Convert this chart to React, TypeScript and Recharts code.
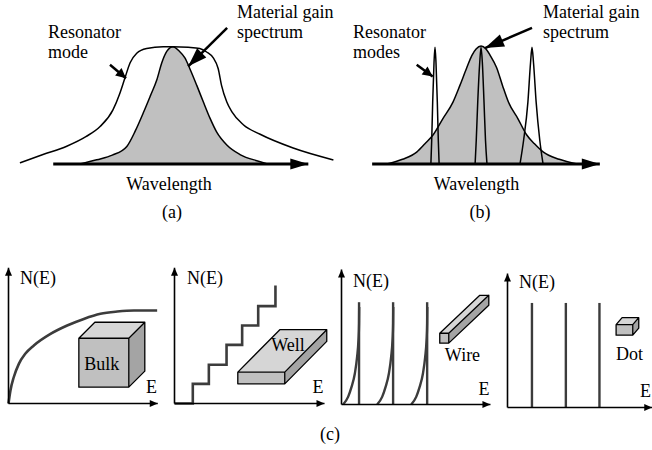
import React from 'react';
import { ComposedChart, Line, Area, XAxis, YAxis } from 'recharts';

type P = [number, number];

// ---- Panel (a): wavelength (a.u.) vs gain (normalised) ----
const gainA: P[] = [
  [21.2, 0], [26.3, 0.036], [31, 0.075], [35.4, 0.148], [38, 0.28], [40.4, 0.43], [42.5, 0.57],
  [44.5, 0.707], [46, 0.85], [47.5, 0.945], [49.4, 0.985], [51.2, 0.95], [53, 0.89], [54.5, 0.8],
  [56.6, 0.66], [58.6, 0.52], [60.6, 0.385], [62.6, 0.27], [65.7, 0.16], [69.7, 0.08], [75.8, 0.02], [78, 0],
];
const modeA: P[] = [
  [3, 0.01], [10, 0.08], [17.2, 0.15], [23, 0.23], [27.3, 0.315], [31.2, 0.455], [33.3, 0.595],
  [34.8, 0.72], [36.4, 0.85], [38.4, 0.93], [41.4, 0.97], [46.4, 0.985], [49.4, 0.985], [54, 0.98],
  [57.5, 0.97], [59.6, 0.94], [61.6, 0.89], [63.1, 0.8], [64.1, 0.66], [65.7, 0.52], [67.2, 0.44],
  [70.7, 0.33], [75.8, 0.25], [85.8, 0.135], [98, 0.035],
];
const axisA: P[] = [[13.1, 0], [90.4, 0]];
const pointerGainA: P[] = [[65.8, 1.143], [54.0, 0.82]];
const pointerModeA: P[] = [[30.3, 0.833], [35.15, 0.72]];

// ---- Panel (b) ----
const gainB: P[] = [
  [20.3, 0], [25, 0.04], [29.3, 0.1], [31.8, 0.17], [34.3, 0.246], [37.2, 0.38], [40.3, 0.52],
  [42.4, 0.66], [44.5, 0.81], [46, 0.91], [47.3, 0.965], [48.8, 0.99], [50.3, 0.965], [51.6, 0.91],
  [53.5, 0.81], [55.3, 0.66], [57.1, 0.52], [60, 0.38], [62.6, 0.246], [65, 0.17], [67.7, 0.1],
  [72.5, 0.04], [77.9, 0],
];
const modeB1: P[] = [
  [33.6, 0], [33.85, 0.2], [34.15, 0.52], [34.55, 0.85], [34.85, 0.98], [35.15, 0.85], [35.55, 0.52], [35.85, 0.2], [36.1, 0],
];
const modeB2: P[] = [
  [47.0, 0], [47.35, 0.2], [47.8, 0.52], [48.4, 0.85], [48.8, 0.98], [49.2, 0.85], [49.7, 0.52], [50.15, 0.2], [50.6, 0],
];
const modeB3: P[] = [
  [60.6, 0], [61.7, 0.2], [63.0, 0.52], [63.8, 0.85], [64.24, 0.98], [64.7, 0.85], [65.5, 0.52], [66.6, 0.2], [67.6, 0],
];
const axisB: P[] = [[15.8, 0], [84.8, 0]];
const pointerGainB: P[] = [[64.24, 1.143], [50.0, 0.973]];
const pointerModeB: P[] = [[29.3, 0.833], [34.15, 0.735]];

// ---- Panel (c): density of states N(E) ----
const bulkDos: P[] = [
  [0, 0], [0.13, 0.87], [0.35, 1.75], [0.69, 2.64], [1.13, 3.33], [1.69, 3.87], [2.8, 4.64],
  [3.91, 5.2], [5.02, 5.64], [6.13, 5.98], [7.25, 6.13], [8.36, 6.2], [9.91, 6.2],
];
const wellEdges = [0, 1.22, 2.29, 3.47, 4.51, 5.58, 6.73];
const wellLevels = [0, 1.31, 2.58, 3.91, 5.2, 6.49, 7.87];
const wireEdges = [1.17, 3.44, 5.71];
const wireTop = 6.82;
const wireTail1: P[] = [[0.11, 0], [0.44, 0.51], [0.67, 1.17], [0.89, 2.07], [1.04, 3.17], [1.13, 4.29], [1.17, 5.42], [1.18, 6.5]];
const wireTail2: P[] = [[2.38, 0], [2.71, 0.51], [2.94, 1.17], [3.16, 2.07], [3.31, 3.17], [3.4, 4.29], [3.44, 5.42], [3.45, 6.5]];
const wireTail3: P[] = [[4.65, 0], [4.98, 0.51], [5.21, 1.17], [5.43, 2.07], [5.58, 3.17], [5.67, 4.29], [5.71, 5.42], [5.72, 6.5]];
const dotLevels = [1.63, 3.89, 6.13];
const dotTop = 6.97;

// boxes: [x0, x1, y0, y1, depthX, depthY]
const bulkBox = [4.69, 8.02, 1.09, 4.35, 1.067, 1.067];
const wellBox = [4.22, 7.35, 1.31, 2.09, 2.8, 2.83];
const wireBox = [6.55, 7.15, 4.09, 4.75, 2.67, 2.53];
const dotBox = [7.24, 8.35, 4.82, 5.52, 0.4, 0.47];

// axes of the four small panels: [yTop, xEnd]
const bulkAxes = [9.05, 9.95];
const wellAxes = [9.05, 10.0];
const wireAxes = [9.0, 9.93];
const dotAxes = [8.93, 9.65];

const CURVE = '#3c3c3c';
const FRONT = '#c0c0c0';
const TOPF = '#d6d6d6';
const SIDE = '#a4a4a4';
const SERIF = "'Liberation Serif', 'Times New Roman', 'DejaVu Serif', serif";

const pts = (a: P[]) => a.map(([x, y]) => ({ x, y }));

function polyRange(poly: P[]) {
  const xs = Array.from(new Set(poly.map((p) => p[0]))).sort((a, b) => a - b);
  return xs.map((x) => {
    const ys: number[] = [];
    for (let i = 0; i < poly.length; i++) {
      const [ax, ay] = poly[i];
      const [bx, by] = poly[(i + 1) % poly.length];
      if (Math.abs(ax - bx) < 1e-9) {
        if (Math.abs(x - ax) < 1e-9) ys.push(ay, by);
        continue;
      }
      const lo = Math.min(ax, bx);
      const hi = Math.max(ax, bx);
      if (x >= lo - 1e-9 && x <= hi + 1e-9) ys.push(ay + ((by - ay) * (x - ax)) / (bx - ax));
    }
    return { x, r: [Math.min(...ys), Math.max(...ys)] };
  });
}

const headDot = (len: number, hw: number, color: string) => (props: any) => {
  const { cx, cy, index, points } = props;
  if (!index || !points || points.length < 2) return <g key={`n${index}`} />;
  const p0 = points[index - 1];
  const dx = cx - p0.x;
  const dy = cy - p0.y;
  const d = Math.hypot(dx, dy) || 1;
  const ux = dx / d;
  const uy = dy / d;
  const bx = cx - ux * len;
  const by = cy - uy * len;
  const s = `${cx},${cy} ${bx - uy * hw},${by + ux * hw} ${bx + uy * hw},${by - ux * hw}`;
  return <polygon key={`h${index}`} points={s} fill={color} />;
};

const line = (key: string, data: P[], stroke: string, width: number, type: any = 'linear') => (
  <Line key={key} data={pts(data)} dataKey="y" type={type} stroke={stroke} strokeWidth={width}
    dot={false} activeDot={false} isAnimationActive={false} strokeLinejoin="round" />
);

const arrow = (key: string, data: P[], width: number, len: number, hw: number) => (
  <Line key={key} data={pts(data)} dataKey="y" type="linear" stroke="#000" strokeWidth={width}
    dot={headDot(len, hw, '#000')} activeDot={false} isAnimationActive={false} />
);

const face = (key: string, poly: P[], fill: string) => (
  <Area key={key} data={polyRange(poly)} dataKey="r" type="linear" fill={fill} fillOpacity={1}
    stroke="none" dot={false} activeDot={false} isAnimationActive={false} />
);

function box(key: string, b: number[]) {
  const [x0, x1, y0, y1, dx, dy] = b;
  const front: P[] = [[x0, y0], [x1, y0], [x1, y1], [x0, y1]];
  const top: P[] = [[x0, y1], [x1, y1], [x1 + dx, y1 + dy], [x0 + dx, y1 + dy]];
  const side: P[] = [[x1, y0], [x1 + dx, y0 + dy], [x1 + dx, y1 + dy], [x1, y1]];
  const outline: P[] = [
    [x0, y0], [x1, y0], [x1 + dx, y0 + dy], [x1 + dx, y1 + dy], [x0 + dx, y1 + dy], [x0, y1],
    [x0, y0], [x0, y1], [x1, y1], [x1 + dx, y1 + dy], [x1, y1], [x1, y0],
  ];
  return [
    face(key + 'f', front, FRONT),
    face(key + 't', top, TOPF),
    face(key + 's', side, SIDE),
    line(key + 'o', outline, '#000', 1.3),
  ];
}

function smallAxes(key: string, ax: number[]) {
  return [
    arrow(key + 'y', [[0, 0], [0, ax[0]]], 1.6, 8, 3.5),
    arrow(key + 'x', [[0, 0], [ax[1], 0]], 1.6, 8, 3.5),
  ];
}

function Frame(props: { left: number; top: number; width: number; height: number; xd: number[]; yd: number[]; children: any }) {
  const { left, top, width, height, xd, yd, children } = props;
  return (
    <div style={{ position: 'absolute', left, top, width, height }}>
      <ComposedChart width={width} height={height} margin={{ top: 0, right: 0, bottom: 0, left: 0 }}>
        <XAxis type="number" dataKey="x" domain={xd} hide />
        <YAxis type="number" domain={yd} hide />
        {children}
      </ComposedChart>
    </div>
  );
}

const labels: { t: string; x: number; y: number; a?: 'start' | 'middle' }[] = [
  { t: 'Resonator', x: 48, y: 38 },
  { t: 'mode', x: 48, y: 58 },
  { t: 'Material gain', x: 237, y: 18 },
  { t: 'spectrum', x: 237, y: 38 },
  { t: 'Wavelength', x: 169, y: 190, a: 'middle' },
  { t: '(a)', x: 172, y: 218, a: 'middle' },
  { t: 'Resonator', x: 353, y: 38 },
  { t: 'modes', x: 353, y: 58 },
  { t: 'Material gain', x: 543, y: 18 },
  { t: 'spectrum', x: 543, y: 38 },
  { t: 'Wavelength', x: 476.5, y: 190, a: 'middle' },
  { t: '(b)', x: 480, y: 218, a: 'middle' },
  { t: 'N(E)', x: 20, y: 284 },
  { t: 'N(E)', x: 187, y: 284 },
  { t: 'N(E)', x: 353, y: 287 },
  { t: 'N(E)', x: 519, y: 288 },
  { t: 'Bulk', x: 101.7, y: 370, a: 'middle' },
  { t: 'Well', x: 288, y: 351, a: 'middle' },
  { t: 'Wire', x: 462.5, y: 361, a: 'middle' },
  { t: 'Dot', x: 629.5, y: 360, a: 'middle' },
  { t: 'E', x: 151.5, y: 393, a: 'middle' },
  { t: 'E', x: 318, y: 393, a: 'middle' },
  { t: 'E', x: 484, y: 395, a: 'middle' },
  { t: 'E', x: 640, y: 397 },
  { t: '(c)', x: 330, y: 440, a: 'middle' },
];

export default function App() {
  return (
    <div style={{ position: 'absolute', left: 0, top: 0, width: 652, height: 450, overflow: 'hidden', background: '#fff' }}>
      <Frame left={10} top={21.2} width={330} height={155} xd={[0, 100]} yd={[-0.1, 1.2]}>
        {line('modeA', modeA, '#000', 1.5, 'monotone')}
        <Area data={pts(gainA)} dataKey="y" type="monotone" baseValue={0} fill={FRONT} fillOpacity={1}
          stroke="#000" strokeWidth={1.5} dot={false} activeDot={false} isAnimationActive={false} />
        {arrow('axA', axisA, 3, 18, 5.5)}
        {arrow('pgA', pointerGainA, 2.5, 19, 6.5)}
        {arrow('pmA', pointerModeA, 2.5, 10, 5)}
      </Frame>
      <Frame left={320} top={21.2} width={330} height={155} xd={[0, 100]} yd={[-0.1, 1.2]}>
        <Area data={pts(gainB)} dataKey="y" type="monotone" baseValue={0} fill={FRONT} fillOpacity={1}
          stroke="#000" strokeWidth={1.5} dot={false} activeDot={false} isAnimationActive={false} />
        {line('m1', modeB1, '#000', 1.5, 'monotone')}
        {line('m2', modeB2, '#000', 1.5, 'monotone')}
        {line('m3', modeB3, '#000', 1.5, 'monotone')}
        {arrow('axB', axisB, 3, 18, 5.5)}
        {arrow('pgB', pointerGainB, 2.5, 19, 6.5)}
        {arrow('pmB', pointerModeB, 2.5, 10, 5)}
      </Frame>
      <Frame left={0.5} top={260.5} width={165} height={150} xd={[-0.5, 10.5]} yd={[-0.5, 9.5]}>
        {line('bulk', bulkDos, CURVE, 2.6, 'monotone')}
        {box('bb', bulkBox)}
        {smallAxes('ba', bulkAxes)}
      </Frame>
      <Frame left={166.5} top={260.5} width={165} height={150} xd={[-0.5, 10.5]} yd={[-0.5, 9.5]}>
        <Line data={wellEdges.map((x, i) => ({ x, y: wellLevels[i] }))} dataKey="y" type="stepAfter"
          stroke={CURVE} strokeWidth={2.6} dot={false} activeDot={false} isAnimationActive={false} />
        {box('wb', wellBox)}
        {smallAxes('wa', wellAxes)}
      </Frame>
      <Frame left={334.2} top={261.8} width={165} height={150} xd={[-0.5, 10.5]} yd={[-0.5, 9.5]}>
        {line('t1', wireTail1, CURVE, 2.4, 'monotone')}
        {line('t2', wireTail2, CURVE, 2.4, 'monotone')}
        {line('t3', wireTail3, CURVE, 2.4, 'monotone')}
        {wireEdges.map((e, i) => line('we' + i, [[e, 0], [e, wireTop]], CURVE, 2.4))}
        {box('wib', wireBox)}
        {smallAxes('wia', wireAxes)}
      </Frame>
      <Frame left={499.8} top={264.8} width={165} height={150} xd={[-0.5, 10.5]} yd={[-0.5, 9.5]}>
        {dotLevels.map((e, i) => line('dl' + i, [[e, 0], [e, dotTop]], CURVE, 2.4))}
        {box('db', dotBox)}
        {smallAxes('da', dotAxes)}
      </Frame>
      <svg width={652} height={450} style={{ position: 'absolute', left: 0, top: 0, pointerEvents: 'none' }}>
        {labels.map((l, i) => (
          <text key={i} x={l.x} y={l.y} textAnchor={l.a || 'start'} style={{ fontFamily: SERIF, fontSize: 18 }} fill="#000">
            {l.t}
          </text>
        ))}
      </svg>
    </div>
  );
}
